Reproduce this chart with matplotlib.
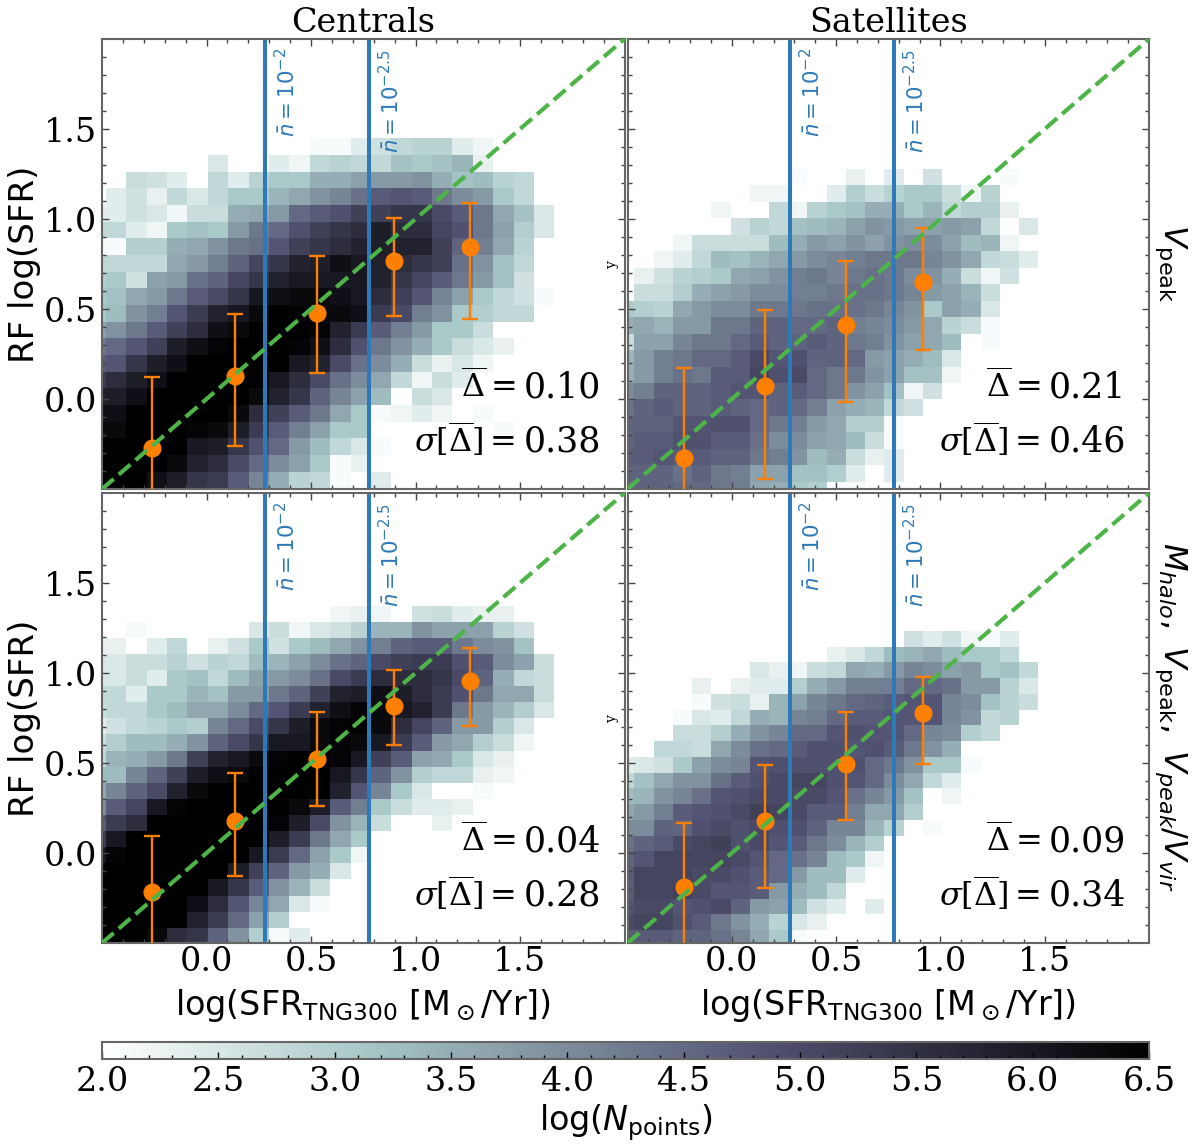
import matplotlib
matplotlib.use("Agg")
import matplotlib.pyplot as plt
import numpy as np

plt.rcParams['font.family'] = 'DejaVu Serif'
plt.rcParams['mathtext.fontset'] = 'dejavuserif'

W = 1200.0
H = 1144.0

# log(N) * 10 per cell, 0 = empty. first row is the top one, short rows are padded with empty cells
cells_cen_vpeak = [
    [0,0,0,0,0,0,0,0,0,0,0,21,21,24,26,28,29,29,24,22],
    [0,0,0,0,0,0,25,0,0,24,22,28,29,28,28,32,31,32,34,23],
    [0,0,27,26,24,0,28,24,29,31,31,35,35,37,38,38,39,35,32,33,29,28],
    [0,24,26,23,28,25,28,31,31,34,36,39,41,44,47,48,47,43,40,38,31,28],
    [24,24,26,25,22,27,27,35,36,38,45,47,49,52,52,54,54,50,47,43,36,32,25],
    [28,28,24,22,31,32,31,38,43,45,49,52,54,56,59,56,56,51,49,43,37,30,25],
    [21,21,30,30,35,36,39,43,44,48,52,54,56,58,59,58,58,52,46,42,36,29],
    [28,28,28,28,36,38,42,46,51,54,58,59,62,60,58,56,54,52,44,39,32,28],
    [30,31,26,37,38,44,46,51,54,58,60,60,60,60,58,54,51,47,43,38,32,26],
    [31,32,36,38,43,47,50,54,60,62,63,63,62,60,56,52,48,41,37,31,28,26,21],
    [31,33,39,42,48,53,58,60,63,65,64,63,63,62,53,50,42,39,31,30,28,28],
    [37,39,43,47,52,56,62,63,65,66,66,64,58,53,47,42,38,31,31,27],
    [43,45,48,52,59,62,64,65,66,66,64,62,56,49,43,39,35,31,27,25,23],
    [47,48,54,59,62,65,66,66,66,65,60,58,50,44,40,35,27,23,25,22],
    [53,56,59,62,66,66,66,66,65,60,56,50,44,40,36,28,22,27,24],
    [58,59,62,66,66,66,66,66,63,58,54,46,41,37,33,0,27,25],
    [62,62,65,66,66,66,66,63,56,52,47,43,36,31,21,22,24,22,0,21],
    [63,63,66,66,66,64,63,59,53,47,42,37,31,31,0,0,0,0,0,0,21],
    [66,66,66,66,65,60,59,54,49,45,38,33,28,25,21],
    [66,66,66,66,63,58,56,50,45,40,37,31,21,23],
    [66,66,66,62,59,54,53,47,41,35,29,28,21,0,24],
]

cells_sat_vpeak = [
    [0,0,0,0,0,0,0,0,0,21,0,0,23,0,24,0,26,0,0,0,21],
    [0,0,0,0,0,0,0,22,22,0,0,24,30,27,29,31,31,27,22,29],
    [0,0,0,0,0,22,0,0,28,22,29,31,32,35,35,31,34,28,30,30,23],
    [0,0,0,0,0,0,26,29,28,32,33,34,37,39,38,37,37,38,37,28,0,25],
    [0,0,0,22,27,27,27,27,33,35,38,37,39,37,39,40,40,37,33,34,22],
    [0,0,22,24,28,33,32,34,36,38,40,41,42,43,43,43,41,39,36,28,27,24],
    [0,23,26,29,30,31,36,37,39,42,43,41,43,44,43,40,39,35,27,22,26],
    [0,27,27,30,35,37,38,40,40,42,42,43,44,44,43,41,38,37,34,27],
    [31,30,29,36,38,40,40,43,43,43,44,44,44,43,41,39,31,37,35,25],
    [35,36,34,38,38,43,43,46,46,45,45,46,42,41,40,38,36,29,27,21],
    [27,37,37,41,43,43,45,47,46,46,47,46,43,42,39,37,36,33,0,21],
    [34,38,42,43,45,45,47,50,48,49,46,46,45,38,37,35,33,25],
    [35,38,42,44,43,47,47,51,49,50,45,43,43,39,37,32,32,22],
    [40,42,46,46,46,47,48,48,46,47,45,43,39,37,32,22,26],
    [44,46,47,46,46,47,46,45,46,45,42,37,35,34,28,26],
    [46,46,46,48,48,49,49,45,43,42,38,36,30,30,21],
    [46,47,47,49,49,47,47,44,40,40,37,36,33,27,21],
    [47,47,48,47,47,46,46,43,42,39,33,35,27,23,24],
    [46,46,46,44,46,43,42,37,37,32,32,30,24,0,24],
    [45,46,46,45,45,43,42,36,35,31,30,21,21],
]

cells_cen_all = [
    [0,0,0,0,0,0,0,0,0,0,0,0,22,23,22,0,26,27,24,23,23],
    [0,0,21,0,0,0,0,0,25,27,22,25,26,29,34,34,39,37,37,37,29,26],
    [23,23,0,24,28,0,23,26,31,26,31,33,36,39,42,46,47,47,43,40,39,32],
    [25,25,27,27,29,26,29,28,33,34,37,40,44,46,50,52,53,53,49,47,40,37,27],
    [25,25,27,24,31,32,28,33,37,38,40,44,50,53,56,56,56,54,50,46,35,28,27],
    [28,28,24,31,31,34,32,38,38,43,46,52,58,59,62,59,56,53,49,43,36,36,27],
    [27,28,28,31,33,36,36,40,45,48,53,58,62,64,63,60,58,53,43,38,34,30,25],
    [24,26,28,29,31,30,41,45,50,54,59,63,64,65,63,56,51,46,38,38,30,25],
    [27,30,33,33,35,39,46,50,54,60,60,63,64,63,60,53,47,38,36,30,27,22],
    [28,34,35,38,43,52,58,60,63,64,65,66,64,60,52,47,37,36,31,25,23],
    [33,33,41,46,52,59,62,63,66,66,66,65,60,54,46,39,30,28,28,23,22],
    [36,41,46,50,58,63,65,66,66,66,66,65,58,48,41,31,25,0,0,21],
    [40,47,51,60,64,66,66,66,66,66,63,59,47,42,31,27,24,24,23],
    [47,53,56,65,66,66,66,66,66,64,59,50,39,34,27,0,0,23],
    [53,60,65,66,66,66,66,66,65,59,53,43,36,31],
    [60,64,66,66,66,66,66,66,60,53,45,37,31,22],
    [64,66,66,66,66,66,65,59,52,46,38,35,25],
    [66,66,66,66,66,66,60,54,47,39,34,27],
    [66,66,66,66,66,62,56,48,41,36,25,21],
    [66,66,66,66,65,58,53,45,37,30],
    [66,66,66,63,56,54,46,39,30,21,24],
]

cells_sat_all = [
    [0,0,0,0,0,0,0,0,0,0,0,0,0,0,0,26,24,26,22,21,24],
    [0,0,0,0,0,0,0,0,0,0,0,23,25,28,33,34,36,33,31,31,28],
    [0,0,0,0,0,0,0,25,23,22,27,28,36,35,38,41,40,37,38,31,32,28],
    [0,0,0,0,23,0,23,24,24,30,35,38,42,42,42,45,45,44,38,38,29,25],
    [0,0,0,0,21,26,27,23,34,37,41,43,45,46,47,48,48,41,40,32,29,27],
    [0,0,0,21,25,24,28,35,34,41,42,45,47,47,48,48,48,41,39,28,29],
    [0,0,0,27,27,30,35,39,41,45,45,48,49,48,48,45,41,40,30,28],
    [0,0,28,28,27,36,40,44,45,47,49,49,48,49,47,43,39,35],
    [24,25,26,31,37,40,41,48,49,49,49,49,49,45,43,39,31,31,21],
    [28,32,36,39,39,44,47,49,50,51,51,49,48,45,40,36,28,24],
    [33,34,39,41,44,48,49,50,50,50,50,48,44,41,38,32,0,22],
    [36,38,42,47,48,49,50,52,51,50,47,47,42,36,36,30],
    [40,40,46,46,49,50,49,50,49,49,46,41,41,34,29,0,21],
    [44,46,47,50,51,52,49,50,48,47,43,40,34,30],
    [46,48,51,51,51,51,50,48,45,44,41,33,31,22],
    [47,51,51,51,50,50,49,47,45,38,33,33,24],
    [47,51,51,52,50,48,48,47,38,35,33,28],
    [48,50,50,48,49,50,46,38,37,33,26,24,0,24],
    [50,51,51,49,47,43,39,35,29,25,23],
    [47,47,47,46,46,44,41,36,31,21],
]

# grid start and bin width of each panel (x0, dx, y0, dy)
grid_cen_vpeak = (-0.5785, 0.0975, -0.496, 0.0926)
grid_sat_vpeak = (-0.5592, 0.0922, -0.5515, 0.0915)
grid_cen_all = (-0.5785, 0.0975, -0.505, 0.0895)
grid_sat_all = (-0.5592, 0.0922, -0.5165, 0.0875)

# binned medians with scatter
x_cen = [-0.259, 0.136, 0.527, 0.899, 1.26]
x_sat = [-0.227, 0.160, 0.546, 0.915]

y_cen_vpeak = [-0.27, 0.128, 0.48, 0.767, 0.846]
hi_cen_vpeak = [0.124, 0.472, 0.794, 1.007, 1.09]
lo_cen_vpeak = [-0.66, -0.261, 0.146, 0.461, 0.446]

y_sat_vpeak = [-0.33, 0.074, 0.411, 0.652]
hi_sat_vpeak = [0.17, 0.493, 0.767, 0.95]
lo_sat_vpeak = [-0.83, -0.445, -0.018, 0.272]

y_cen_all = [-0.218, 0.177, 0.523, 0.818, 0.958]
hi_cen_all = [0.093, 0.443, 0.784, 1.016, 1.14]
lo_cen_all = [-0.7, -0.125, 0.26, 0.60, 0.704]

y_sat_all = [-0.19, 0.18, 0.495, 0.777]
hi_sat_all = [0.164, 0.488, 0.786, 0.98]
lo_sat_all = [-0.7, -0.197, 0.186, 0.495]

density_lines = [0.28, 0.777]
density_labels = [r'$\bar{n}=10^{-2}$', r'$\bar{n}=10^{-2.5}$']
density_label_y = [1.456, 1.367]

delta_vals = ['0.10', '0.21', '0.04', '0.09']
sigma_vals = ['0.38', '0.46', '0.28', '0.34']

cbar_ticks = [2.0, 2.5, 3.0, 3.5, 4.0, 4.5, 5.0, 5.5, 6.0, 6.5]
ax_ticks = [0.0, 0.5, 1.0, 1.5]


def px_axes(left, top, right, bottom):
    return fig.add_axes([left / W, 1 - bottom / H, (right - left) / W, (bottom - top) / H])


def to_image(rows):
    ncol = max(len(r) for r in rows)
    img = np.zeros((len(rows), ncol))
    for i, r in enumerate(rows):
        img[i, :len(r)] = r
    img = img[::-1] / 10.0
    return np.ma.masked_where(img == 0, img)


def draw_panel(ax, rows, grid, xs, ys, hi, lo, delta, sigma):
    img = to_image(rows)
    x0, dx, y0, dy = grid
    xedges = x0 + dx * np.arange(img.shape[1] + 1)
    yedges = y0 + dy * np.arange(img.shape[0] + 1)
    mesh = ax.pcolormesh(xedges, yedges, img, cmap='bone_r', vmin=2.0, vmax=6.5)

    for xv, lab, ly in zip(density_lines, density_labels, density_label_y):
        ax.axvline(xv, color='#2e7ab8', lw=2.9)
        ax.text(xv + 0.043, ly, lab, rotation=90, color='#2e7ab8', fontsize=15.3,
                ha='left', va='bottom', math_fontfamily='dejavusans')

    ax.plot([-0.5, 2.0], [-0.5, 2.0], color='#4db548', lw=3.0, ls='--', zorder=4)

    xs = np.array(xs)
    ys = np.array(ys)
    yerr = [ys - np.array(lo), np.array(hi) - ys]
    ax.errorbar(xs, ys, yerr=yerr, fmt='o', color='#ff7f00', ms=12, elinewidth=1.7,
                capsize=5.5, capthick=1.7, zorder=3)

    # numbers and the math in front of them sit apart, the math runs narrower than the digits
    ax.text(1.89, 0.007, delta, ha='right', va='baseline', fontsize=25)
    ax.text(1.89, -0.294, sigma, ha='right', va='baseline', fontsize=25)
    ax.text(1.48, 0.007, r'$\overline{\Delta}=$', ha='right', va='baseline', fontsize=23)
    ax.text(1.48, -0.294, r'$\sigma[\overline{\Delta}]=$', ha='right', va='baseline', fontsize=23)

    ax.set_xlim(-0.5, 2.0)
    ax.set_ylim(-0.5, 2.0)
    ax.set_xticks(ax_ticks)
    ax.set_yticks(ax_ticks)
    ax.set_xticks(np.arange(-0.4, 2.0, 0.1), minor=True)
    ax.set_yticks(np.arange(-0.4, 2.0, 0.1), minor=True)
    ax.tick_params(which='major', direction='in', top=True, right=True, length=5,
                   width=1, color='#444444', labelsize=24)
    ax.tick_params(which='minor', direction='in', top=True, right=True, length=3,
                   width=1, color='#444444')
    ax.tick_params(axis='x', which='major', pad=2)
    for s in ax.spines.values():
        s.set_color('#666666')
        s.set_linewidth(1.5)
    return mesh


fig = plt.figure(figsize=(12, 11.44), dpi=100)

ax1 = px_axes(102, 39, 624.5, 489)
ax2 = px_axes(627.5, 39, 1149, 489)
ax3 = px_axes(102, 493, 624.5, 943)
ax4 = px_axes(627.5, 493, 1149, 943)

mesh = draw_panel(ax1, cells_cen_vpeak, grid_cen_vpeak, x_cen, y_cen_vpeak, hi_cen_vpeak, lo_cen_vpeak, delta_vals[0], sigma_vals[0])
draw_panel(ax2, cells_sat_vpeak, grid_sat_vpeak, x_sat, y_sat_vpeak, hi_sat_vpeak, lo_sat_vpeak, delta_vals[1], sigma_vals[1])
draw_panel(ax3, cells_cen_all, grid_cen_all, x_cen, y_cen_all, hi_cen_all, lo_cen_all, delta_vals[2], sigma_vals[2])
draw_panel(ax4, cells_sat_all, grid_sat_all, x_sat, y_sat_all, hi_sat_all, lo_sat_all, delta_vals[3], sigma_vals[3])

ax1.tick_params(labelbottom=False)
ax2.tick_params(labelbottom=False, labelleft=False)
ax4.tick_params(labelleft=False)

ax1.set_title('Centrals', fontsize=24, pad=2)
ax2.set_title('Satellites', fontsize=24, pad=2)

for ax in [ax1, ax3]:
    ax.set_ylabel('RF log(SFR)', fontsize=24.5, family='DejaVu Sans', labelpad=2)
for ax in [ax3, ax4]:
    ax.set_xlabel(r'log(SFR$_{\rm TNG300}$ [M$_\odot$/Yr])', fontsize=24, family='DejaVu Sans',
                  math_fontfamily='dejavusans', labelpad=7)

# leftover default labels of the right column
ax2.set_ylabel('y', fontsize=10, labelpad=3)
ax4.set_ylabel('y', fontsize=10, labelpad=3)

fig.text(1171 / W, 1 - 263 / H, r'$V_{\rm peak}$', rotation=270, fontsize=23, ha='center', va='center',
         math_fontfamily='dejavusans')
fig.text(1171 / W, 1 - 717 / H, r'$M_{halo},\ V_{\rm peak},\ V_{peak}/V_{vir}$', rotation=270, fontsize=23,
         ha='center', va='center', math_fontfamily='dejavusans')

cax = px_axes(102, 1042, 1149, 1059)
cb = fig.colorbar(mesh, cax=cax, orientation='horizontal')
cb.set_ticks(cbar_ticks)
cb.ax.xaxis.set_ticks(np.arange(2.1, 6.5, 0.1), minor=True)
cb.ax.tick_params(which='major', direction='in', length=5, width=1, labelsize=24, pad=5)
cb.ax.tick_params(which='minor', direction='in', length=3, width=1)
cb.outline.set_edgecolor('#666666')
cb.outline.set_linewidth(1.5)
cb.set_label(r'log($N_{\rm points}$)', fontsize=24, family='DejaVu Sans', math_fontfamily='dejavusans', labelpad=3)

fig.savefig('out.png', dpi=100)
